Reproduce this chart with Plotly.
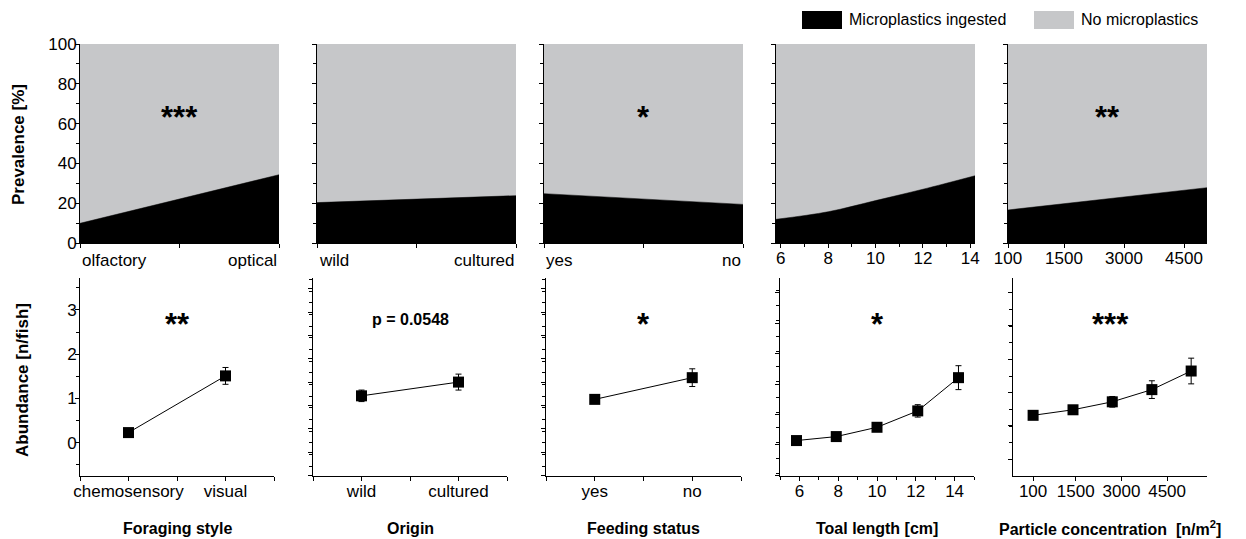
import plotly.graph_objects as go

W, H = 1246, 539
FONT = "Liberation Sans, Arial, sans-serif"
BLACK = "#000000"
GREY = "#c6c7c9"

# ---------------- data: prevalence (top row) ----------------
forage_prev_cats = ["olfactory", "optical"]
forage_prev = [9.9, 34.3]
origin_prev_cats = ["wild", "cultured"]
origin_prev = [20.3, 23.8]
feeding_prev_cats = ["yes", "no"]
feeding_prev = [24.8, 19.4]
length_prev_x = [5.8, 8, 10, 12, 14.2]
length_prev = [11.9, 15.7, 21.3, 27.0, 33.8]
conc_prev_x = [100, 5075]
conc_prev = [16.6, 27.8]

# ---------------- data: abundance (bottom row) ----------------
forage_cats = ["chemosensory", "visual"]
forage_ab = [0.23, 1.51]
forage_err = [0.03, 0.19]
origin_cats = ["wild", "cultured"]
origin_ab = [1.06, 1.37]
origin_err = [0.13, 0.18]
feeding_cats = ["yes", "no"]
feeding_ab = [0.98, 1.47]
feeding_err = [0.07, 0.20]
length_x = [5.85, 7.9, 10.0, 12.1, 14.2]
length_ab = [0.05, 0.14, 0.35, 0.72, 1.47]
length_err = [0.03, 0.04, 0.05, 0.14, 0.27]
conc_x = [100, 1410, 2700, 4000, 5290]
conc_ab = [0.62, 0.745, 0.925, 1.20, 1.62]
conc_err = [0.05, 0.05, 0.12, 0.20, 0.29]

top_sig = ["***", "", "*", "", "**"]
bottom_sig = ["**", "p = 0.0548", "*", "*", "***"]
x_titles = ["Foraging style", "Origin", "Feeding status", "Toal length [cm]",
            "Particle concentration&nbsp;&nbsp;[n/m<sup>2</sup>]"]

fig = go.Figure()

def px_x(a, b):
    return [a / W, b / W]

def px_y(top, bottom):
    return [1 - bottom / H, 1 - top / H]

top_xdom = [px_x(80, 279), px_x(317, 516), px_x(544, 743), px_x(776, 975), px_x(1008, 1207)]
top_ydom = px_y(44, 243)
bot_xdom = [px_x(80, 274), px_x(313, 507), px_x(546, 741), px_x(780, 974), px_x(1013, 1207)]
bot_ydom = px_y(278, 476)

# ---------- top row traces ----------
top_sets = [
    (list(range(len(forage_prev_cats))), forage_prev),
    (list(range(len(origin_prev_cats))), origin_prev),
    (list(range(len(feeding_prev_cats))), feeding_prev),
    (length_prev_x, length_prev),
    (conc_prev_x, conc_prev),
]
for i, (xs, ys) in enumerate(top_sets):
    ax = "" if i == 0 else str(i + 1)
    fig.add_trace(go.Scatter(x=xs, y=[100] * len(xs), mode="lines", fill="tozeroy",
                             fillcolor=GREY, line=dict(width=0, color=GREY),
                             xaxis="x" + ax, yaxis="y" + ax, showlegend=False, hoverinfo="skip"))
    fig.add_trace(go.Scatter(x=xs, y=ys, mode="lines", fill="tozeroy",
                             fillcolor=BLACK, line=dict(width=0.5, color=BLACK, shape="spline"),
                             xaxis="x" + ax, yaxis="y" + ax, showlegend=False))

# ---------- bottom row traces ----------
bot_sets = [
    ([i + 1 for i in range(len(forage_cats))], forage_ab, forage_err),
    ([i + 1 for i in range(len(origin_cats))], origin_ab, origin_err),
    ([i + 1 for i in range(len(feeding_cats))], feeding_ab, feeding_err),
    (length_x, length_ab, length_err),
    (conc_x, conc_ab, conc_err),
]
for i, (xs, ys, es) in enumerate(bot_sets):
    n = str(i + 6)
    fig.add_trace(go.Scatter(x=xs, y=ys, mode="lines+markers",
                             line=dict(color=BLACK, width=1),
                             marker=dict(symbol="square", size=11, color=BLACK),
                             error_y=dict(type="data", array=es, visible=True,
                                          color=BLACK, thickness=1, width=3),
                             xaxis="x" + n, yaxis="y" + n, showlegend=False))

axis_common = dict(showline=True, linecolor=BLACK, linewidth=1, ticks="outside",
                   tickcolor=BLACK, tickwidth=1, ticklen=4, showgrid=False, zeroline=False,
                   automargin=False, tickangle=0,
                   tickfont=dict(family=FONT, size=17, color=BLACK), fixedrange=True)
minor_common = dict(ticks="outside", ticklen=3, tickcolor=BLACK, tickwidth=1, showgrid=False)

layout = dict(width=W, height=H, margin=dict(l=0, r=0, t=0, b=0, autoexpand=False),
              paper_bgcolor="white", plot_bgcolor="white",
              font=dict(family=FONT, color=BLACK), showlegend=False)

# top axes
top_xcfg = [
    dict(range=[0, 1], tickvals=[0, 0.5, 1], showticklabels=False),
    dict(range=[0, 1], tickvals=[0, 0.5, 1], showticklabels=False),
    dict(range=[0, 1], tickvals=[0, 0.5, 1], showticklabels=False),
    dict(range=[5.8, 14.2], tickvals=[6, 8, 10, 12, 14], minor=dict(dtick=1, **minor_common),
         ticklabelstandoff=-4),
    dict(range=[100, 5075], tickvals=[100, 1500, 3000, 4500], ticklabelstandoff=-4),
]
for i in range(5):
    k = "" if i == 0 else str(i + 1)
    xa = dict(axis_common, domain=top_xdom[i], anchor="y" + k, **top_xcfg[i])
    ya = dict(axis_common, domain=top_ydom, anchor="x" + k, range=[0, 100], dtick=20,
              minor=dict(dtick=10, **minor_common), showticklabels=(i == 0),
              ticklabelstandoff=-5)
    layout["xaxis" + k] = xa
    layout["yaxis" + k] = ya

# bottom axes
def cat_axis(cats):
    vals, text = [0.5], [" "]
    for j, c in enumerate(cats):
        vals += [j + 1, j + 1.5]
        text += [c, " "]
    return dict(range=[0.5, len(cats) + 0.5], tickvals=vals, ticktext=text)

bot_xcfg = [
    cat_axis(forage_cats),
    cat_axis(origin_cats),
    cat_axis(feeding_cats),
    dict(range=[5, 15], tickvals=[6, 8, 10, 12, 14], minor=dict(dtick=1, **minor_common)),
    dict(range=[-560, 5810], tickvals=[100, 1500, 3000, 4500]),
]
bot_ycfg = [
    dict(tick0=0, dtick=1, minor=dict(dtick=0.5, **minor_common), showticklabels=True),
    dict(tick0=-0.21, dtick=0.527, minor=dict(dtick=0.2635, **minor_common), showticklabels=False),
    dict(tick0=-0.21, dtick=0.527, minor=dict(dtick=0.2635, **minor_common), showticklabels=False),
    dict(tick0=-0.05, dtick=0.688, minor=dict(dtick=0.344, **minor_common), showticklabels=False),
    dict(tick0=-0.37, dtick=0.752, minor=dict(dtick=0.376, **minor_common), showticklabels=False),
]
for i in range(5):
    n = str(i + 6)
    layout["xaxis" + n] = dict(axis_common, domain=bot_xdom[i], anchor="y" + n,
                               ticklabelstandoff=-4, **bot_xcfg[i])
    layout["yaxis" + n] = dict(axis_common, domain=bot_ydom, anchor="x" + n,
                               range=[-0.75, 3.72], ticklabelstandoff=-5, **bot_ycfg[i])

annotations = []
# top category labels (left / right aligned at panel edges)
for i, cats in enumerate([forage_prev_cats, origin_prev_cats, feeding_prev_cats]):
    k = "" if i == 0 else str(i + 1)
    annotations.append(dict(text=cats[0], xref="x" + k + " domain", yref="paper",
                            x=0, y=1 - 260 / H, xanchor="left", yanchor="middle",
                            showarrow=False, font=dict(family=FONT, size=17, color=BLACK)))
    annotations.append(dict(text=cats[1], xref="x" + k + " domain", yref="paper",
                            x=1, y=1 - 260 / H, xanchor="right", yanchor="middle",
                            showarrow=False, font=dict(family=FONT, size=17, color=BLACK)))

# significance marks
for i, s in enumerate(top_sig):
    if s:
        k = "" if i == 0 else str(i + 1)
        annotations.append(dict(text="<b>%s</b>" % s, xref="x" + k + " domain", yref="y" + k,
                                x=0.5, y=63, xanchor="center", yanchor="middle",
                                showarrow=False, font=dict(family=FONT, size=31, color=BLACK)))
for i, s in enumerate(bottom_sig):
    n = str(i + 6)
    big = s.startswith("*")
    annotations.append(dict(text="<b>%s</b>" % s, xref="x" + n + " domain", yref="y" + n,
                            x=0.5, y=2.66 if big else 2.78, xanchor="center", yanchor="middle",
                            showarrow=False,
                            font=dict(family=FONT, size=31 if big else 16, color=BLACK)))

# x-axis titles
for i, t in enumerate(x_titles):
    n = str(i + 6)
    annotations.append(dict(text="<b>%s</b>" % t, xref="x" + n + " domain", yref="paper",
                            x=0.5, y=1 - 528 / H, xanchor="center", yanchor="middle",
                            showarrow=False, font=dict(family=FONT, size=16, color=BLACK)))

# y-axis titles
annotations.append(dict(text="<b>Prevalence [%]</b>", xref="paper", yref="paper",
                        x=18 / W, y=1 - 145 / H, textangle=-90, showarrow=False,
                        xanchor="center", yanchor="middle",
                        font=dict(family=FONT, size=17, color=BLACK)))
annotations.append(dict(text="<b>Abundance [n/fish]</b>", xref="paper", yref="paper",
                        x=22 / W, y=1 - 380 / H, textangle=-90, showarrow=False,
                        xanchor="center", yanchor="middle",
                        font=dict(family=FONT, size=17, color=BLACK)))

# legend
legend_items = [("Microplastics ingested", BLACK, 802, 842), ("No microplastics", GREY, 1034, 1074)]
shapes = []
for label, col, x0, x1 in legend_items:
    shapes.append(dict(type="rect", xref="paper", yref="paper",
                       x0=x0 / W, x1=x1 / W, y0=1 - 29 / H, y1=1 - 11 / H,
                       fillcolor=col, line=dict(width=0)))
    annotations.append(dict(text=label, xref="paper", yref="paper",
                            x=(x1 + 5) / W, y=1 - 20 / H, xanchor="left", yanchor="middle",
                            showarrow=False, font=dict(family=FONT, size=16, color=BLACK)))

layout["annotations"] = annotations
layout["shapes"] = shapes
fig.update_layout(**layout)
fig.write_html("out.html")
